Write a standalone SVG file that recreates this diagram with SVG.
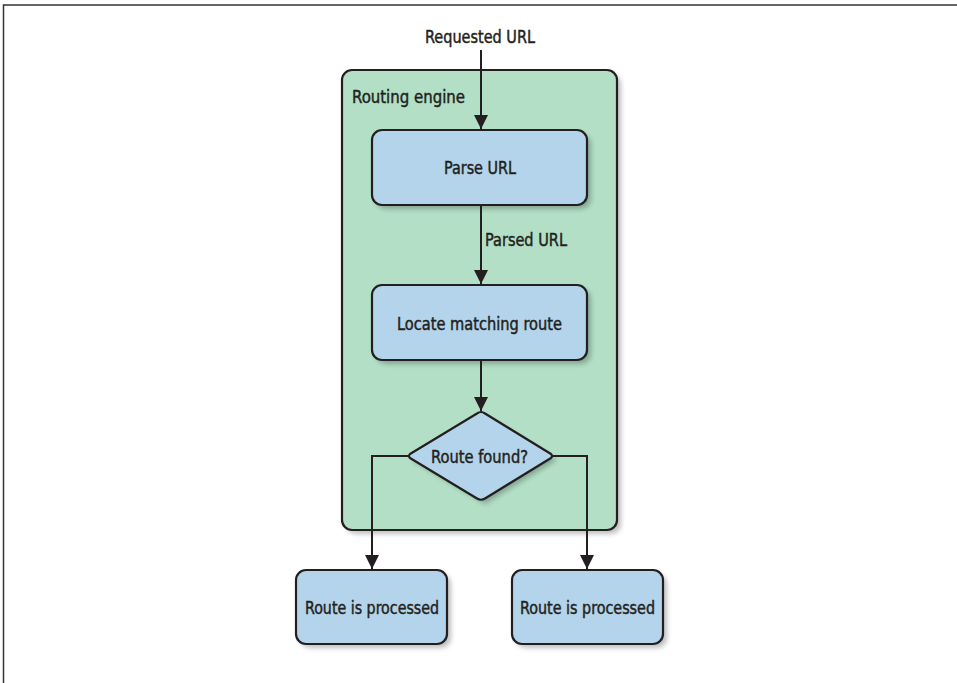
<svg xmlns="http://www.w3.org/2000/svg" width="957" height="683" viewBox="0 0 957 683">
<style>
.t{font-family:"DejaVu Sans Condensed","DejaVu Sans",sans-serif;font-size:18px;fill:#231f20;stroke:#231f20;stroke-width:0.45;}
.box{fill:#b3d4ea;stroke:#231f20;stroke-width:2.2;}
.shadow{fill:#000;opacity:0.25;filter:url(#blur);}
.ln{fill:none;stroke:#231f20;stroke-width:2;}
</style>
<defs>
<filter id="blur" x="-10%" y="-10%" width="130%" height="130%"><feGaussianBlur stdDeviation="2.5"/></filter>
<marker id="a" viewBox="0 0 14 14" refX="14" refY="7" markerWidth="14" markerHeight="14" markerUnits="userSpaceOnUse" orient="auto">
<path d="M0,0 L14,7 L0,14 z" fill="#231f20"/>
</marker>
</defs>
<rect width="957" height="683" fill="#fff"/>
<path d="M3.5,683 V5 H957" fill="none" stroke="#333" stroke-width="1.5"/>
<g id="routing-engine">
<rect x="346" y="74" width="275" height="460" rx="10" class="shadow"/>
<rect x="342" y="70" width="275" height="460" rx="10" fill="#b2dfc6" stroke="#231f20" stroke-width="2.2"/>
<text x="352" y="103" class="t" textLength="113" lengthAdjust="spacingAndGlyphs">Routing engine</text>
</g>
<g id="parse-url">
<rect x="376" y="134" width="215" height="75" rx="10" class="shadow"/>
<rect x="372" y="130" width="215" height="75" rx="10" class="box"/>
<text x="444" y="174" class="t" textLength="72" lengthAdjust="spacingAndGlyphs">Parse URL</text>
</g>
<g id="locate-route">
<rect x="376" y="289" width="215" height="75" rx="10" class="shadow"/>
<rect x="372" y="285" width="215" height="75" rx="10" class="box"/>
<text x="397" y="330" class="t" textLength="165" lengthAdjust="spacingAndGlyphs">Locate matching route</text>
</g>
<g id="route-found">
<path d="M485,416 L557,460 L485,504 L412,460 Z" class="shadow"/>
<path d="M481,412 Q483,412 485,413.5 L551,454 Q553,456 551,458 L485,498.5 Q481,501 477,498.5 L410,458 Q408,456 410,454 L477,413.5 Q479,412 481,412 Z" class="box" stroke-linejoin="round"/>
<text x="431" y="463" class="t" textLength="97" lengthAdjust="spacingAndGlyphs">Route found?</text>
</g>
<g id="processed-left">
<rect x="300" y="574" width="151" height="74" rx="10" class="shadow"/>
<rect x="296" y="570" width="151" height="74" rx="10" class="box"/>
<text x="305" y="614" class="t" textLength="134" lengthAdjust="spacingAndGlyphs">Route is processed</text>
</g>
<g id="processed-right">
<rect x="516" y="574" width="151" height="74" rx="10" class="shadow"/>
<rect x="512" y="570" width="151" height="74" rx="10" class="box"/>
<text x="520" y="614" class="t" textLength="135" lengthAdjust="spacingAndGlyphs">Route is processed</text>
</g>
<g id="connectors">
<text x="425" y="43" class="t" textLength="110" lengthAdjust="spacingAndGlyphs">Requested URL</text>
<line x1="481" y1="50" x2="481" y2="129" class="ln" marker-end="url(#a)"/>
<line x1="481" y1="206" x2="481" y2="284" class="ln" marker-end="url(#a)"/>
<text x="485" y="246" class="t" textLength="82" lengthAdjust="spacingAndGlyphs">Parsed URL</text>
<line x1="481" y1="361" x2="481" y2="411" class="ln" marker-end="url(#a)"/>
<path d="M409,456 H372 V569" class="ln" marker-end="url(#a)"/>
<path d="M552,456 H587 V569" class="ln" marker-end="url(#a)"/>
</g>
</svg>
